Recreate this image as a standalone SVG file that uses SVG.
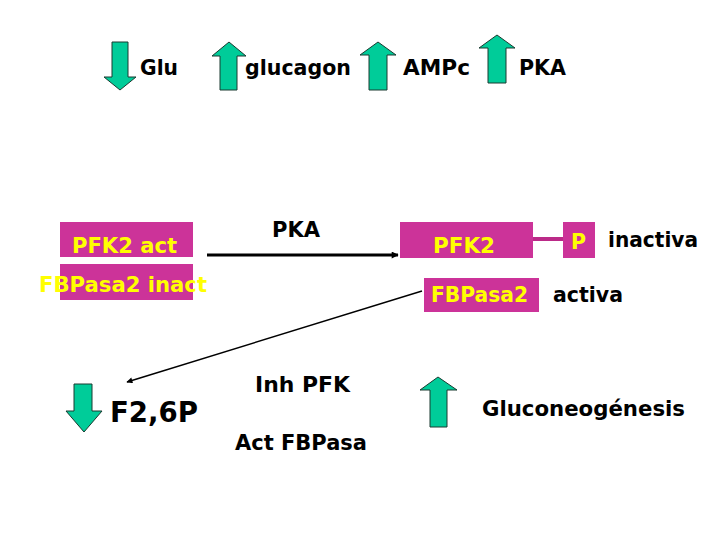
<svg xmlns="http://www.w3.org/2000/svg" width="720" height="540" viewBox="0 0 720 540">
<style>
.t{font-family:"DejaVu Sans","Liberation Sans",sans-serif;font-weight:bold;fill:#000}
.y{font-family:"DejaVu Sans","Liberation Sans",sans-serif;font-weight:bold;fill:#FFFF00}
.arr{fill:#00CC99;stroke:#1a3a30;stroke-width:1}
.box{fill:#CC3399}
</style>
<defs>
<marker id="ah" viewBox="0 0 10 10" refX="9" refY="5" markerWidth="9" markerHeight="7" orient="auto" markerUnits="userSpaceOnUse">
<path d="M0,0 L10,5 L0,10 z" fill="#000"/>
</marker>
<marker id="ah2" viewBox="0 0 10 10" refX="9" refY="5" markerWidth="9" markerHeight="6" orient="auto" markerUnits="userSpaceOnUse">
<path d="M0,0 L10,5 L0,10 z" fill="#000"/>
</marker>
</defs>
<rect width="720" height="540" fill="#fff"/>

<g id="glu">
<path class="arr" d="M112,42 H128 V77 H136 L120,90 L104,77 H112 Z"/>
<text class="t" x="140" y="75" font-size="22" textLength="38" lengthAdjust="spacingAndGlyphs">Glu</text>
</g>
<g id="glucagon">
<path class="arr" d="M220,90 H237 V56 H246 L229,42 L212,56 H220 Z"/>
<text class="t" x="245" y="75" font-size="22" textLength="106" lengthAdjust="spacingAndGlyphs">glucagon</text>
</g>
<g id="ampc">
<path class="arr" d="M369,90 H387 V55 H396 L378,42 L360,55 H369 Z"/>
<text class="t" x="403" y="75" font-size="22" textLength="67" lengthAdjust="spacingAndGlyphs">AMPc</text>
</g>
<g id="pka-top">
<path class="arr" d="M488,83 H506 V48 H515 L497,35 L479,48 H488 Z"/>
<text class="t" x="519" y="75" font-size="22" textLength="47" lengthAdjust="spacingAndGlyphs">PKA</text>
</g>

<g id="pfk2act">
<rect class="box" x="60" y="222" width="133" height="35"/>
<text class="y" x="72" y="253" font-size="21" textLength="105" lengthAdjust="spacingAndGlyphs">PFK2 act</text>
</g>
<g id="fbpasa2inact">
<rect class="box" x="60" y="264" width="133" height="36"/>
<text class="y" x="39" y="292" font-size="21" textLength="168" lengthAdjust="spacingAndGlyphs">FBPasa2 inact</text>
</g>

<g id="pka-mid">
<text class="t" x="272" y="237" font-size="21" textLength="48" lengthAdjust="spacingAndGlyphs">PKA</text>
</g>

<g id="pfk2">
<rect class="box" x="400" y="222" width="133" height="36"/>
<text class="y" x="433" y="253" font-size="21" textLength="62" lengthAdjust="spacingAndGlyphs">PFK2</text>
</g>
<g id="p">
<rect class="box" x="563" y="222" width="32" height="36"/>
<text class="y" x="571" y="249" font-size="21" textLength="15" lengthAdjust="spacingAndGlyphs">P</text>
<text class="t" x="608" y="247" font-size="21" textLength="90" lengthAdjust="spacingAndGlyphs">inactiva</text>
</g>
<g id="fbpasa2">
<rect class="box" x="424" y="278" width="115" height="34"/>
<text class="y" x="431" y="302" font-size="21" textLength="97" lengthAdjust="spacingAndGlyphs">FBPasa2</text>
<text class="t" x="553" y="302" font-size="21" textLength="70" lengthAdjust="spacingAndGlyphs">activa</text>
</g>

<g id="f26p">
<path class="arr" d="M74,384 H92 V411 H102 L84,432 L66,411 H74 Z"/>
<text class="t" x="110" y="422" font-size="28" textLength="88" lengthAdjust="spacingAndGlyphs">F2,6P</text>
</g>
<g id="inh">
<text class="t" x="255" y="392" font-size="21" textLength="95" lengthAdjust="spacingAndGlyphs">Inh PFK</text>
<text class="t" x="235" y="450" font-size="21" textLength="132" lengthAdjust="spacingAndGlyphs">Act FBPasa</text>
</g>
<g id="gluconeo">
<path class="arr" d="M430,427 H447 V390 H457 L438,377 L420,390 H430 Z"/>
<text class="t" x="482" y="416" font-size="21" textLength="203" lengthAdjust="spacingAndGlyphs">Gluconeogénesis</text>
</g>

<g id="connectors">
<line x1="207" y1="255" x2="398" y2="255" stroke="#000" stroke-width="3" marker-end="url(#ah)"/>
<line x1="533" y1="239" x2="563" y2="239" stroke="#BB2A88" stroke-width="4"/>
<line x1="422" y1="291" x2="127" y2="382" stroke="#000" stroke-width="1.5" marker-end="url(#ah2)"/>
</g>
</svg>
